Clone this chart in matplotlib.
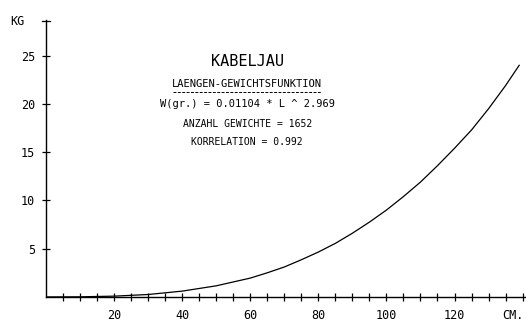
import numpy as np
import matplotlib
matplotlib.use('Agg')
import matplotlib.pyplot as plt

# Laenge (cm) und Gewicht (kg)
laenge = [0, 10, 20, 30, 40, 50, 60, 65, 70, 75, 80, 85, 90, 95, 100,
          105, 110, 115, 120, 125, 130, 135, 139]
gewicht = [0.0, 0.01, 0.08, 0.25, 0.6, 1.15, 1.95, 2.5, 3.1, 3.85, 4.65,
           5.55, 6.6, 7.75, 9.0, 10.4, 11.9, 13.6, 15.4, 17.3, 19.5, 21.9, 24.0]

x_ticks = [20, 40, 60, 80, 100, 120]
y_ticks = [5, 10, 15, 20, 25]

titel = 'KABELJAU'
untertitel = 'LAENGEN-GEWICHTSFUNKTION'
info = ['W(gr.) = 0.01104 * L ^ 2.969',
        'ANZAHL GEWICHTE = 1652',
        'KORRELATION = 0.992']

plt.rcParams['font.family'] = 'DejaVu Sans Mono'

fig = plt.figure(figsize=(5.26, 3.27), dpi=100)
ax = fig.add_axes([0.0875, 0.092, 0.9125, 0.847])

ax.plot(laenge, gewicht, color='black', linewidth=0.9)

ax.set_xlim(0, 141)
ax.set_ylim(0, 28.7)

for s in ['top', 'right']:
    ax.spines[s].set_visible(False)
for s in ['left', 'bottom']:
    ax.spines[s].set_linewidth(1.0)

ax.set_xticks(x_ticks)
ax.set_xticks(np.arange(5, 141, 5), minor=True)
ax.set_yticks(y_ticks)
ax.tick_params(axis='both', which='both', direction='inout', length=6,
               width=0.9, labelsize=8.5, color='black')
ax.tick_params(axis='x', pad=6)
ax.tick_params(axis='y', pad=5)

# kleine Kappe oben an der y-Achse
ax.plot([-1.2, 1.2], [28.6, 28.6], color='black', linewidth=0.9, clip_on=False)

fig.text(0.02, 0.935, 'KG', fontsize=8.5, va='center')
fig.text(0.975, 0.035, 'CM.', fontsize=8.5, va='center', ha='center')

cx = 0.47
fig.text(cx, 0.812, titel, fontsize=11, ha='center', va='center')
fig.text(cx, 0.742, untertitel, fontsize=7.5, ha='center', va='center')
fig.add_artist(plt.Line2D([0.328, 0.61], [0.72, 0.72], transform=fig.transFigure,
                          color='black', linewidth=0.7, linestyle=(0, (3, 1.5))))
fig.text(cx, 0.682, info[0], fontsize=7.5, ha='center', va='center')
fig.text(cx, 0.621, info[1], fontsize=7, ha='center', va='center')
fig.text(cx, 0.566, info[2], fontsize=7, ha='center', va='center')

fig.savefig('out.png', dpi=100)
